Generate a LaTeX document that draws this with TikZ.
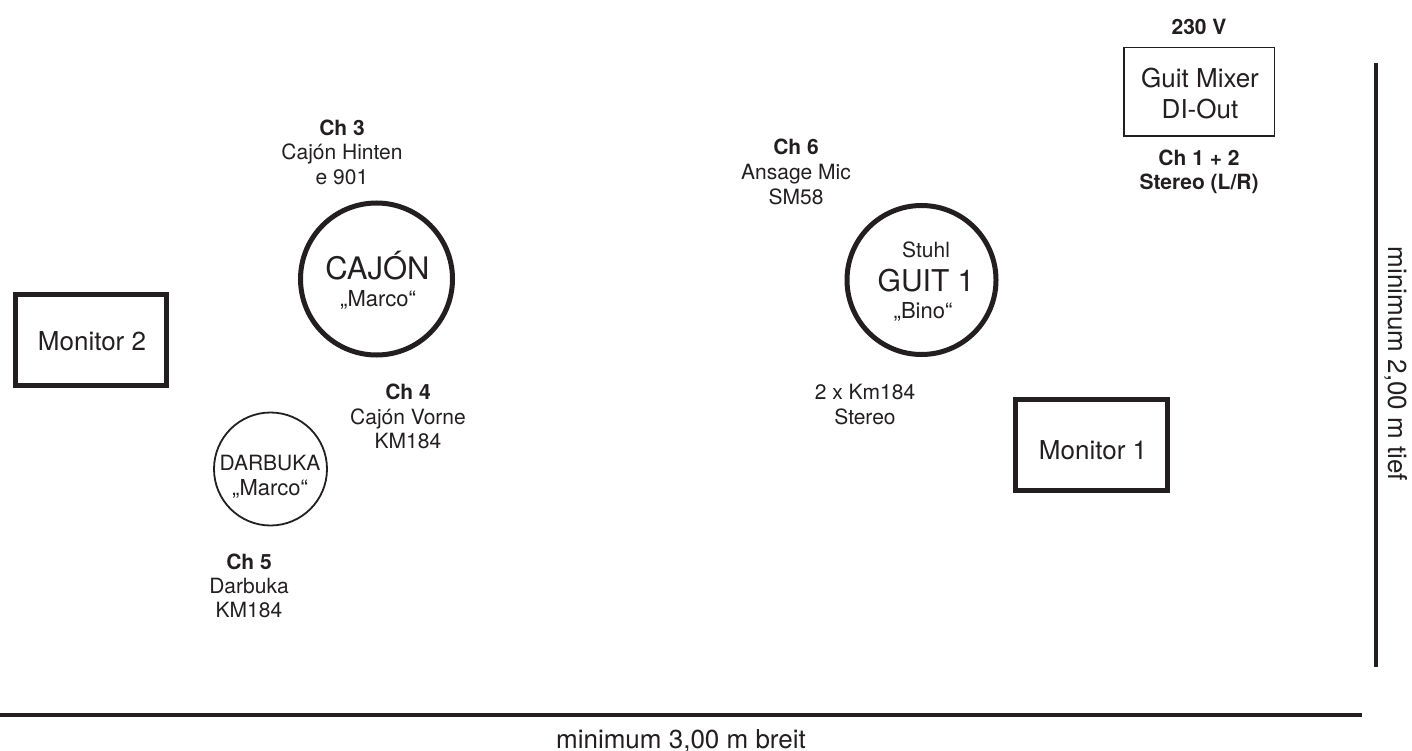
\documentclass[tikz,border=0pt]{standalone}
\usepackage{fontspec}
\setmainfont{TeX Gyre Heros}
\definecolor{ink}{RGB}{35,31,32}
\begin{document}
\begin{tikzpicture}[x=1pt,y=-1pt,
  every node/.style={inner sep=0pt, outer sep=0pt, text=ink},
  lbl/.style={align=center, font=\fontsize{21}{24.5}\selectfont, anchor=base},
  boxtxt/.style={align=center, font=\fontsize{26}{31}\selectfont, anchor=base},
  thickbox/.style={draw=ink, line width=5pt, rectangle, minimum width=151pt, minimum height=91pt},
  thinbox/.style={draw=ink, line width=1.5pt, rectangle, minimum width=150.5pt, minimum height=88.5pt},
  thickcirc/.style={draw=ink, line width=5pt, circle},
  thincirc/.style={draw=ink, line width=1.8pt, circle},
  dimline/.style={draw=ink, line width=4pt}]
\useasboundingbox (0,0) rectangle (1412,751);

% Monitor 2
\node[thickbox] (mon2) at (91,340) {};
\node[boxtxt] (mon2t) at (92,350.3) {Monitor 2};

% Cajon
\node[thickcirc, minimum size=152pt] (cajon) at (376.5,279) {};
\node[anchor=base, font=\fontsize{31}{31}\selectfont] (cajont) at (377.5,279) {CAJÓN};
\node[anchor=base, font=\fontsize{22}{22}\selectfont] (cajonm) at (378,306) {„Marco“};

% Ch 3 (anchor = baseline of last line)
\node[lbl] (ch3) at (342,184.5) {\textbf{Ch 3}\\Cajón Hinten\\e 901};
% Ch 4
\node[lbl] (ch4) at (408,448.5) {\textbf{Ch 4}\\Cajón Vorne\\KM184};

% Darbuka
\node[thincirc, minimum size=113pt] (darb) at (270.5,469) {};
\node[anchor=base, font=\fontsize{21}{21}\selectfont] (darbt) at (270,470) {DARBUKA};
\node[anchor=base, font=\fontsize{22}{22}\selectfont] (darbm) at (270,495) {„Marco“};

% Ch 5
\node[lbl, font=\fontsize{21}{24}\selectfont] (ch5) at (249,617.5) {\textbf{Ch 5}\\Darbuka\\KM184};

% Ch 6
\node[lbl, font=\fontsize{21}{25}\selectfont] (ch6) at (796,204.5) {\textbf{Ch 6}\\Ansage Mic\\SM58};

% Guit 1
\node[thickcirc, minimum size=149pt] (guit) at (921.5,280) {};
\node[anchor=base, font=\fontsize{21}{21}\selectfont] (guits) at (926,257) {Stuhl};
\node[anchor=base, font=\fontsize{30}{30}\selectfont] (guitt) at (926,291) {GUIT 1};
\node[anchor=base, font=\fontsize{22}{22}\selectfont] (guitb) at (923,318) {„Bino“};

% 2 x Km184
\node[lbl, font=\fontsize{21}{25}\selectfont] (km) at (865,424.5) {2 x Km184\\Stereo};

% Monitor 1
\node[thickbox, minimum width=152pt] (mon1) at (1091.5,445) {};
\node[boxtxt] (mon1t) at (1093,459) {Monitor 1};

% Guit mixer
\node[lbl] (volt) at (1199,34.5) {\textbf{230 V}};
\node[thinbox] (mix) at (1199,92) {};
\node[boxtxt] (mixt) at (1200,118.3) {Guit Mixer\\DI-Out};
\node[lbl, font=\fontsize{21}{24}\selectfont] (ch12) at (1199,189.5) {\textbf{Ch 1 + 2}\\\textbf{Stereo (L/R)}};

% Dimension lines
\coordinate (vtop) at (1376,63);
\coordinate (vbot) at (1376,667);
\draw[dimline] (vtop) -- (vbot);
\coordinate (hl) at (0,715);
\coordinate (hr) at (1362,715);
\draw[dimline] (hl) -- (hr);
\node[anchor=base, rotate=-90, font=\fontsize{26}{26}\selectfont] (tief) at (1388,364) {minimum 2,00 m tief};
\node[anchor=base, font=\fontsize{26}{26}\selectfont] (breit) at (681,748) {minimum 3,00 m breit};
\end{tikzpicture}
\end{document}
